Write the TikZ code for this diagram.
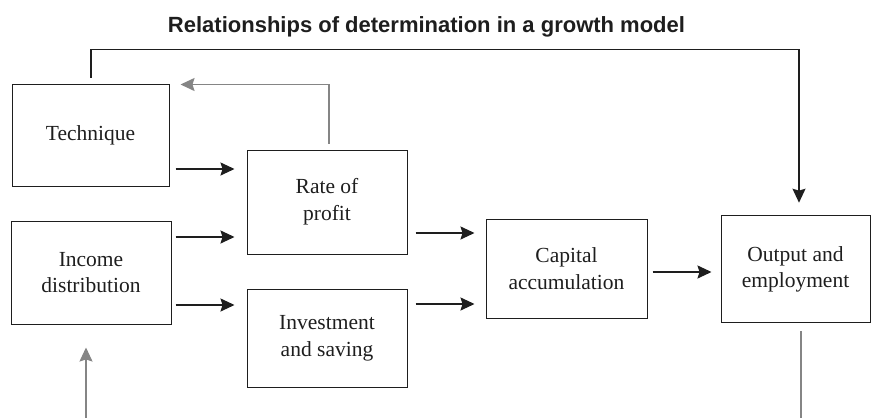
\documentclass[tikz,border=0pt]{standalone}
\usepackage{fontspec}
\setmainfont{Liberation Serif}
\newfontfamily\titlefont{Liberation Sans}
\usetikzlibrary{arrows.meta}
\definecolor{linegray}{HTML}{858585}
\definecolor{ink}{HTML}{1E1E1E}
\begin{document}
\begin{tikzpicture}[x=1pt,y=-1pt,
  box/.style={draw=ink,line width=1pt,align=center,inner sep=0pt,
    font=\fontsize{21.5}{26.7}\selectfont,text=ink},
  arr/.style={draw=ink,line width=1.6pt,-{Stealth[length=14pt,width=13pt,inset=2pt]}},
  garr/.style={draw=linegray,line width=1.4pt,-{Stealth[length=14pt,width=13pt,inset=2pt]}},
  gline/.style={draw=linegray,line width=1.4pt}]
\useasboundingbox (0,0) rectangle (871,418);
\node[anchor=base,font=\titlefont\bfseries\fontsize{22}{24}\selectfont,text=ink] (title) at (426.5,32) {Relationships of determination in a growth model};
\node[box,minimum width=157pt,minimum height=102pt] (tech) at (90.5,135) {Technique};
\node[box,minimum width=160pt,minimum height=104pt] (rate) at (327,202) {Rate of\\profit};
\node[box,minimum width=160pt,minimum height=103pt] (inc) at (91,272.5) {Income\\distribution};
\node[box,minimum width=160pt,minimum height=98pt] (inv) at (327,338) {Investment\\and saving};
\node[box,minimum width=161pt,minimum height=99pt] (cap) at (566.5,268.5) {Capital\\accumulation};
\node[box,minimum width=149pt,minimum height=107pt] (out) at (795.5,269.3) {Output and\\employment};
% horizontal arrows
\coordinate (a1) at ([xshift=6pt,yshift=-34pt]tech.east);
\draw[arr] (a1) -- ([xshift=-12pt]rate.west |- a1);
\coordinate (a2) at ([xshift=4pt,yshift=35.5pt]inc.east);
\draw[arr] (a2) -- ([xshift=-12pt]rate.west |- a2);
\coordinate (a3) at ([xshift=4pt,yshift=-32.5pt]inc.east);
\draw[arr] (a3) -- ([xshift=-12pt]inv.west |- a3);
\coordinate (a4) at ([xshift=8pt,yshift=-31pt]rate.east);
\draw[arr] (a4) -- ([xshift=-11pt]cap.west |- a4);
\coordinate (a5) at ([xshift=8pt,yshift=34pt]inv.east);
\draw[arr] (a5) -- ([xshift=-11pt]cap.west |- a5);
\coordinate (a6) at ([xshift=5pt,yshift=-3.5pt]cap.east);
\draw[arr] (a6) -- ([xshift=-9pt]out.west |- a6);
% top feedback connector
\coordinate (topL) at ([xshift=0.2pt,yshift=34pt]tech.north);
\coordinate (outTop) at ([xshift=3.5pt,yshift=12.6pt]out.north);
\draw[arr] ([xshift=0.2pt,yshift=6pt]tech.north) -- (topL) -| (outTop);
% gray feedback from rate of profit to technique
\draw[garr] ([xshift=2pt,yshift=6pt]rate.north) |- ([xshift=11pt,yshift=-1pt]tech.north east);
% gray bottom connectors
\coordinate (gb1) at (86,418);
\draw[garr] (gb1) -- ([xshift=-5pt,yshift=-23pt]inc.south);
\coordinate (gb2) at (801,418);
\draw[gline] ([xshift=5.5pt,yshift=-8pt]out.south) -- (gb2);
\end{tikzpicture}
\end{document}
